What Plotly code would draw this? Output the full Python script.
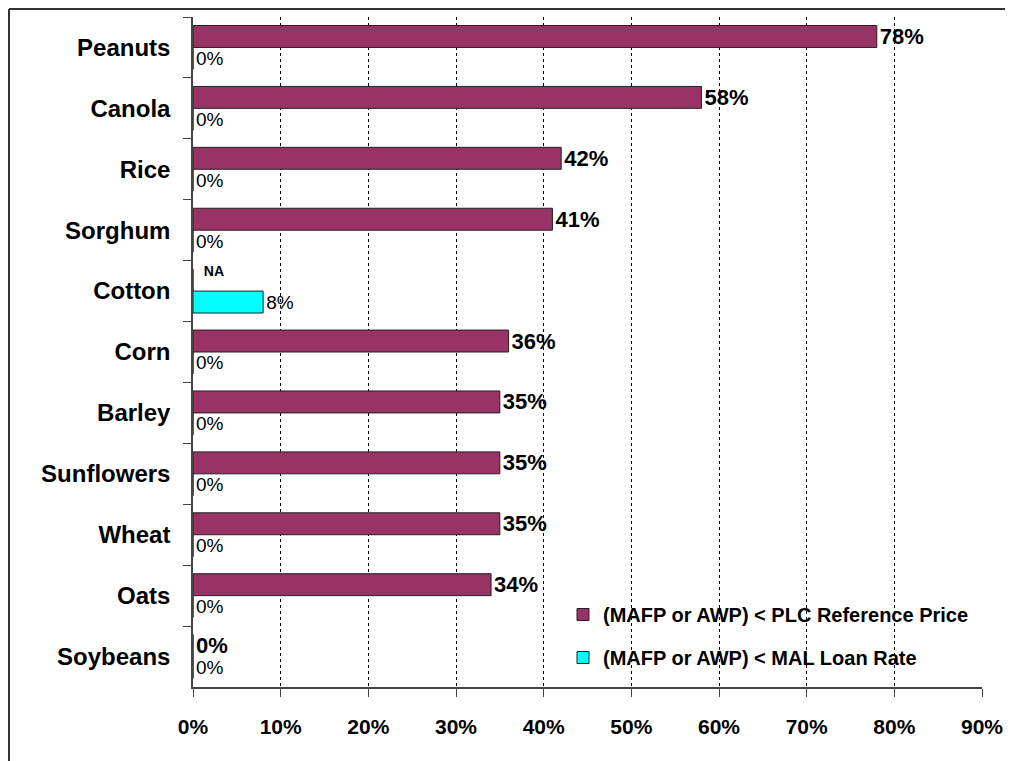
import plotly.graph_objects as go

crops = ["Peanuts", "Canola", "Rice", "Sorghum", "Cotton", "Corn", "Barley",
         "Sunflowers", "Wheat", "Oats", "Soybeans"]
plc_values = [78, 58, 42, 41, 0, 36, 35, 35, 35, 34, 0]
plc_labels = ["78%", "58%", "42%", "41%", "NA", "36%", "35%", "35%", "35%", "34%", "0%"]
mal_values = [0, 0, 0, 0, 8, 0, 0, 0, 0, 0, 0]
mal_labels = ["0%", "0%", "0%", "0%", "8%", "0%", "0%", "0%", "0%", "0%", "0%"]
x_ticks = [0, 10, 20, 30, 40, 50, 60, 70, 80, 90]
x_tick_text = [f"{t}%" for t in x_ticks]

FONT = "Arial, Liberation Sans, sans-serif"
W, H = 1013, 761
L, R, T, B = 185, 39, 9, 82
PW, PH = W - L - R, H - T - B

plc_text = ["\u00a0\u00a0" + t + "<br> " if t == "NA" else t for t in plc_labels]

fig = go.Figure()
fig.add_trace(go.Bar(
    y=crops, x=plc_values, orientation="h",
    name="(MAFP or AWP) < PLC Reference Price",
    marker=dict(color="#993366", line=dict(color="#222222", width=1)),
    text=plc_text, textposition="outside", constraintext="none",
    textfont=dict(family=FONT, color="black",
                  size=[14 if t == "NA" else 22 for t in plc_labels],
                  weight="bold"),
    cliponaxis=False, legendgroup="a",
))
fig.add_trace(go.Bar(
    y=crops, x=mal_values, orientation="h",
    name="(MAFP or AWP) < MAL Loan Rate",
    marker=dict(color="#00FFFF", line=dict(color="#222222", width=1)),
    text=mal_labels, textposition="outside", constraintext="none",
    textfont=dict(family=FONT, color="black", size=19),
    cliponaxis=False, legendgroup="b",
))

fig.update_layout(
    width=W, height=H,
    margin=dict(l=L, r=R, t=T, b=B),
    paper_bgcolor="white", plot_bgcolor="white",
    barmode="group", bargap=0.28, bargroupgap=0,
    font=dict(family=FONT, color="black"),
    legend=dict(
        x=(555 - L) / PW, y=(T + PH - 587) / PH, xanchor="left", yanchor="top",
        traceorder="grouped", tracegroupgap=14,
        font=dict(family=FONT, size=20, color="black", weight="bold"),
        bgcolor="rgba(0,0,0,0)",
    ),
    xaxis=dict(
        range=[0, 90], tickvals=x_ticks, ticktext=x_tick_text,
        showgrid=True, gridcolor="black", griddash="dot", gridwidth=1,
        zeroline=False, showline=True, linecolor="#444444", linewidth=1.5,
        ticks="outside", ticklen=8, tickcolor="#444444",
        tickfont=dict(family=FONT, size=21, color="black", weight="bold"),
        ticklabelstandoff=12, automargin=False,
    ),
    yaxis=dict(
        categoryorder="array", categoryarray=crops, autorange="reversed",
        showgrid=False, zeroline=False,
        showline=True, linecolor="#444444", linewidth=1.5,
        ticks="outside", ticklen=8, tickcolor="#444444", tickson="boundaries",
        tickfont=dict(family=FONT, size=24, color="black", weight="bold"),
        ticklabelstandoff=16, automargin=False,
    ),
    shapes=[
        dict(type="line", xref="paper", yref="paper",
             x0=(1 - L) / PW, x1=1.1, y0=(T + PH - 1) / PH, y1=(T + PH - 1) / PH,
             line=dict(color="#333333", width=2)),
        dict(type="line", xref="paper", yref="paper",
             x0=(1 - L) / PW, x1=(1 - L) / PW, y0=-0.2, y1=(T + PH - 1) / PH,
             line=dict(color="#333333", width=2)),
    ],
)

fig.write_html("out.html")
